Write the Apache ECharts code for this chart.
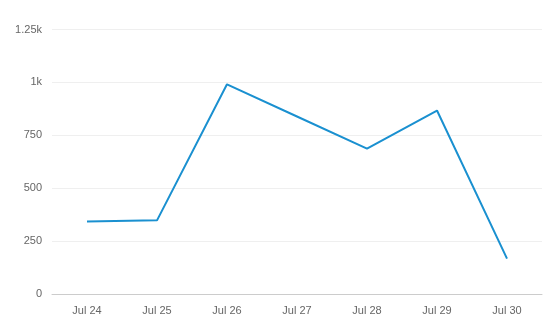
<!DOCTYPE html>
<html><head><meta charset="utf-8">
<script src="https://cdn.jsdelivr.net/npm/echarts@6/dist/echarts.min.js"></script>
<style>html,body{margin:0;padding:0;background:#fff}#c{width:552px;height:336px}</style>
</head><body><div id="c"></div>
<script>
var categories = ["Jul 24","Jul 25","Jul 26","Jul 27","Jul 28","Jul 29","Jul 30"];
var values = [343, 348, 991, 839, 687, 867, 167];
var yTicks = [0, 250, 500, 750, 1000, 1250];
function fmt(v){ return v >= 1000 ? (v/1000) + 'k' : String(v); }
var chart = echarts.init(document.getElementById('c'), null, {renderer:'canvas'});
chart.setOption({
  animation:false,
  grid:{left:52, right:10, top:29.5, bottom:42, containLabel:false},
  xAxis:{
    type:'category', data:categories, boundaryGap:true,
    axisLine:{lineStyle:{color:'#cccccc'}},
    axisTick:{alignWithLabel:true, lineStyle:{color:'#cccccc'}},
    axisLabel:{color:'#666666', fontFamily:'Arial, Liberation Sans, sans-serif', fontSize:11, margin:11}
  },
  yAxis:{
    type:'value', min:yTicks[0], max:yTicks[yTicks.length-1], interval:250,
    axisLine:{show:false}, axisTick:{show:false},
    splitLine:{lineStyle:{color:'#efefef'}},
    axisLabel:{color:'#666666', fontFamily:'Arial, Liberation Sans, sans-serif', fontSize:11, margin:10, padding:[4,0,0,0], formatter:fmt}
  },
  series:[{
    type:'line', data:values, symbol:'none',
    lineStyle:{color:'#1a90d0', width:2},
    itemStyle:{color:'#1a90d0'}
  }]
});
</script></body></html>
